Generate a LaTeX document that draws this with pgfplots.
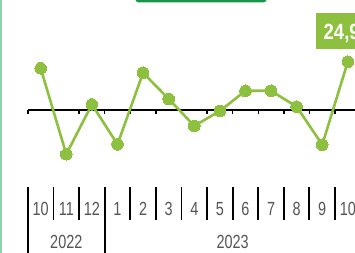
\documentclass[border=0pt]{standalone}
\usepackage{pgfplots}
\pgfplotsset{compat=1.18}
\usepackage{fontspec}
\setmainfont{Liberation Sans}
\newfontfamily\nf[FakeStretch=0.76]{Liberation Sans}
\newfontfamily\nb[FakeStretch=0.84]{Liberation Sans Bold}
\definecolor{lgreen}{RGB}{141,192,62}
\definecolor{dgreen}{RGB}{24,150,72}
\definecolor{edge}{RGB}{140,210,170}
\definecolor{lab}{RGB}{85,85,85}
\pgfplotstableread{
x y
0 21.5
1 -22.8
2 2.9
3 -17.7
4 19.2
5 5.7
6 -8.2
7 -0.5
8 9.9
9 9.9
10 1.7
11 -17.9
12 24.9
}\datatable
\begin{document}
\begin{tikzpicture}
\useasboundingbox (0,0) rectangle (355pt,253pt);
\clip (0,0) rectangle (355pt,253pt);
\fill[white] (0,0) rectangle (355pt,253pt);
\fill[edge] (0,0) rectangle (1.6pt,253pt);
\fill[dgreen, rounded corners=4pt] (135pt,250.5pt) rectangle (267pt,270pt);
\begin{axis}[at={(27.9pt,0pt)}, anchor=south west, scale only axis,
  width=327.1pt, height=253pt, xmin=-0.5, xmax=12.28, ymin=-73.7, ymax=56.7,
  axis lines=none, clip=false]
% axis line and ticks
\foreach \b in {-0.5,0.5,1.5,2.5,3.5,4.5,5.5,6.5,7.5,8.5,9.5,10.5,11.5}{
  \edef\tmp{\noexpand\draw[black, line width=1.3pt] (axis cs:\b,0) -- (axis cs:\b,-2.3);}\tmp
}
\draw[black, line width=1.6pt] (axis cs:-0.5,0) -- (axis cs:12.28,0);
% category separators
\foreach \b in {0.5,1.5,3.5,4.5,5.5,6.5,7.5,8.5,9.5,10.5,11.5}{
  \edef\tmp{\noexpand\draw[black, line width=1.9pt] (axis cs:\b,-39.7) -- (axis cs:\b,-56.7);}\tmp
}
\draw[black, line width=1.9pt] (axis cs:-0.5,-39.7) -- (axis cs:-0.5,-73.7);
\draw[black, line width=1.9pt] (axis cs:2.5,-39.7) -- (axis cs:2.5,-73.7);
% category labels
\foreach \i/\t in {0/10,1/11,2/12,3/1,4/2,5/3,6/4,7/5,8/6,9/7,10/8,11/9,12/10}{
  \edef\tmp{\noexpand\node[anchor=base, text=lab, font=\noexpand\nf\noexpand\fontsize{19}{19}\noexpand\selectfont, inner sep=0pt] at (axis cs:\i,-54.3) {\t};}\tmp
}
\node[anchor=base, text=lab, font=\nf\fontsize{19}{19}\selectfont, inner sep=0pt] at (axis cs:1,-71.6) {2022};
\node[anchor=base, text=lab, font=\nf\fontsize{19}{19}\selectfont, inner sep=0pt] at (axis cs:7.5,-71.6) {2023};
% series
\addplot[lgreen, line width=2.6pt, mark=*, mark size=5.8pt, mark options={fill=lgreen, draw=lgreen, line width=0pt}] table[x=x, y=y] {\datatable};
\end{axis}
\fill[lgreen] (316pt,204pt) rectangle (380pt,240pt);
\node[anchor=base west, inner sep=0pt, text=white, font=\nb\fontsize{22}{22}\selectfont] at (323.5pt,213.7pt) {24,9};
\end{tikzpicture}
\end{document}
